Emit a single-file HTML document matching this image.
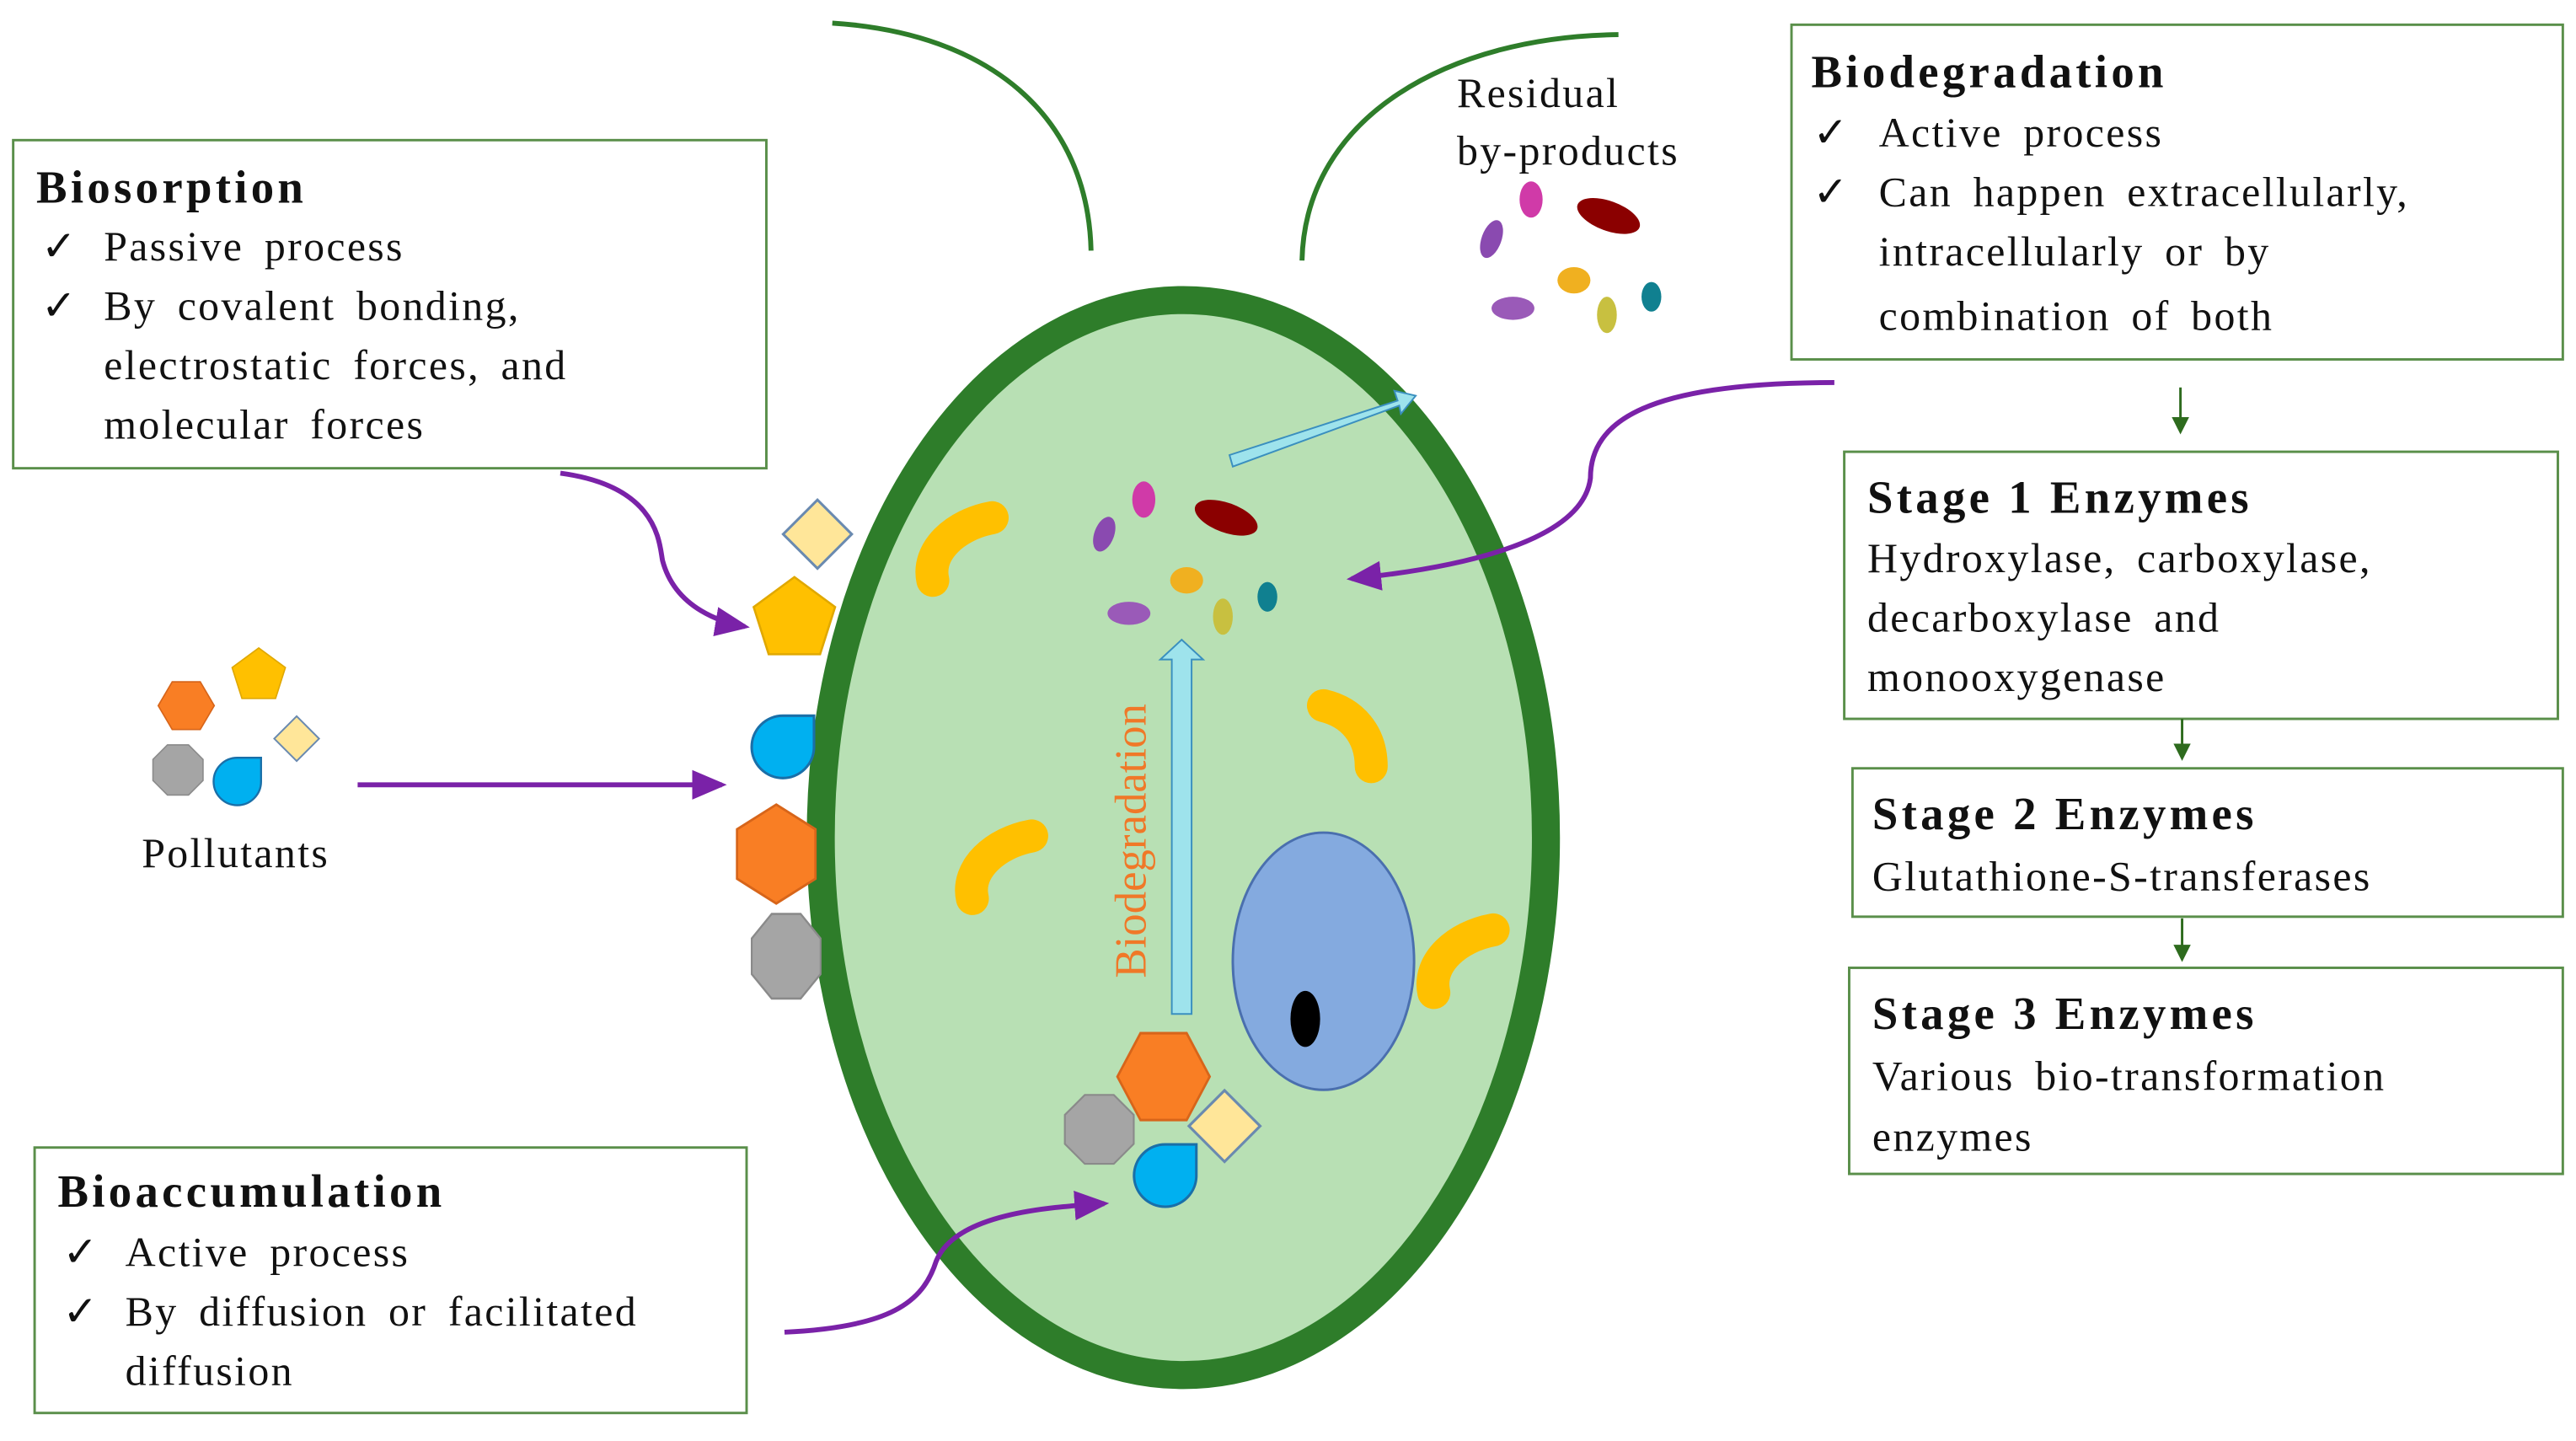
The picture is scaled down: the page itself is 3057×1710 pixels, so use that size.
<!DOCTYPE html>
<html><head><meta charset="utf-8"><style>
html,body{margin:0;padding:0;background:#fff;}
svg{display:block;}
text{font-family:"Liberation Serif","Times New Roman",serif;fill:#111;}
.t{font-size:28px;font-weight:bold;letter-spacing:2.2px;}
.b{font-size:25.5px;letter-spacing:1.2px;word-spacing:5px;}
.box{fill:#fff;stroke:#5a8f4a;stroke-width:1.5;}
.pur{fill:none;stroke:#7a22a8;stroke-width:3;}
</style></head><body>
<svg width="3057" height="1710" viewBox="0 0 1563 874" preserveAspectRatio="none" xmlns="http://www.w3.org/2000/svg" font-family="Liberation Serif, serif">
<defs>
<marker id="pa" markerWidth="8" markerHeight="8" refX="6" refY="4" orient="auto" markerUnits="strokeWidth"><path d="M0,1 L7,4 L0,7 Z" fill="#7a22a8"/></marker>
<marker id="ga" markerWidth="8" markerHeight="8" refX="6" refY="4" orient="auto" markerUnits="strokeWidth"><path d="M0,0.5 L7,4 L0,7.5 Z" fill="#2e6b1e"/></marker>
<path id="hex" d="M-20,0 L-10,-17 L10,-17 L20,0 L10,17 L-10,17 Z" fill="#f97e24" stroke="#d7651a" stroke-width="1"/>
<path id="oct" d="M-8,-19 L8,-19 L19,-8 L19,8 L8,19 L-8,19 L-19,8 L-19,-8 Z" fill="#a5a5a5" stroke="#8a8a8a" stroke-width="1"/>
<path id="pent" d="M0,-20 L19,-6 L12,16 L-12,16 L-19,-6 Z" fill="#ffc000" stroke="#e0a800" stroke-width="1"/>
<path id="dia" d="M0,-16 L16,0 L0,16 L-16,0 Z" fill="#ffe699" stroke="#6a8ab0" stroke-width="1.2"/>
<path id="drop" d="M18,-18 L18,0 A18,18 0 1 1 0,-18 Z" fill="#00b0f0" stroke="#1a6fa8" stroke-width="1.5"/>
<path id="bean" d="M-22,20 C-26,2 -8,-14 14,-18" fill="none" stroke="#ffc000" stroke-width="20" stroke-linecap="round"/>
</defs>

<path d="M505,14 C600,20 660,70 662,152" fill="none" stroke="#2e7d2a" stroke-width="3"/>
<path d="M982,21 C880,22 792,70 790,158" fill="none" stroke="#2e7d2a" stroke-width="3"/>

<ellipse cx="718" cy="508" rx="220" ry="326" fill="#b8e0b4" stroke="#2e7d2a" stroke-width="17"/>

<use href="#bean" transform="translate(588,332)"/>
<use href="#bean" transform="translate(612,525)"/>
<path d="M803,428 C820,432 832,445 832,465" fill="none" stroke="#ffc000" stroke-width="20" stroke-linecap="round"/>
<use href="#bean" transform="translate(892,582)"/>

<ellipse cx="803" cy="583" rx="55" ry="78" fill="#84aadf" stroke="#4a6fae" stroke-width="1.5"/>
<ellipse cx="792" cy="618" rx="9" ry="17" fill="#000"/>

<path d="M711,615 L711,400 L704,400 L717,388 L730,400 L723,400 L723,615 Z" fill="#9ee3ec" stroke="#3a8fbf" stroke-width="1"/>
<path d="M746,276 L848,243 L846,237 L859,240 L850,251 L849,246 L748,283 Z" fill="#9ee3ec" stroke="#3a8fbf" stroke-width="1"/>
<text transform="translate(695,510) rotate(-90)" text-anchor="middle" style="font-size:27px;fill:#f07828">Biodegradation</text>

<g>
<ellipse cx="670" cy="324" rx="6" ry="11" fill="#8a4ab0" transform="rotate(20 670 324)"/>
<ellipse cx="694" cy="303" rx="7" ry="11" fill="#d03aa8"/>
<ellipse cx="744" cy="314" rx="20" ry="9" fill="#8b0000" transform="rotate(20 744 314)"/>
<ellipse cx="685" cy="372" rx="13" ry="7" fill="#9a5ab8"/>
<ellipse cx="720" cy="352" rx="10" ry="8" fill="#f0b020"/>
<ellipse cx="742" cy="374" rx="6" ry="11" fill="#c8c040"/>
<ellipse cx="769" cy="362" rx="6" ry="9" fill="#108090"/>
</g>
<g>
<ellipse cx="905" cy="145" rx="6" ry="12" fill="#8a4ab0" transform="rotate(20 905 145)"/>
<ellipse cx="929" cy="121" rx="7" ry="11" fill="#d03aa8"/>
<ellipse cx="976" cy="131" rx="20" ry="9" fill="#8b0000" transform="rotate(20 976 131)"/>
<ellipse cx="918" cy="187" rx="13" ry="7" fill="#9a5ab8"/>
<ellipse cx="955" cy="170" rx="10" ry="8" fill="#f0b020"/>
<ellipse cx="975" cy="191" rx="6" ry="11" fill="#c8c040"/>
<ellipse cx="1002" cy="180" rx="6" ry="9" fill="#108090"/>
</g>
<text x="884" y="65" class="b">Residual</text>
<text x="884" y="100" class="b">by-products</text>

<use href="#dia" transform="translate(496,324) scale(1.3)"/>
<use href="#pent" transform="translate(482,376) scale(1.3)"/>
<use href="#drop" transform="translate(475,453) scale(1.05)"/>
<use href="#hex" transform="translate(471,518) scale(1.4,1.5) rotate(90)"/>
<use href="#oct" transform="translate(477,580) scale(1.1,1.35)"/>

<use href="#hex" transform="translate(113,428) scale(0.85)"/>
<use href="#pent" transform="translate(157,410) scale(0.85)"/>
<use href="#dia" transform="translate(180,448) scale(0.85)"/>
<use href="#oct" transform="translate(108,467) scale(0.8)"/>
<use href="#drop" transform="translate(144,474) scale(0.8)"/>
<text x="86" y="526" class="b">Pollutants</text>

<use href="#hex" transform="translate(706,653) scale(1.4,1.55)"/>
<use href="#oct" transform="translate(667,685) scale(1.1)"/>
<use href="#dia" transform="translate(743,683) scale(1.35)"/>
<use href="#drop" transform="translate(707,713) scale(1.05)"/>

<path class="pur" d="M340,287 C400,295 400,330 402,340 C410,370 440,378 452,380" marker-end="url(#pa)"/>
<path class="pur" d="M217,476 L438,476" marker-end="url(#pa)"/>
<path class="pur" d="M476,808 C540,805 560,790 568,765 C580,735 640,732 670,730" marker-end="url(#pa)"/>
<path class="pur" d="M1113,232 C1000,232 965,255 965,290 C960,330 880,345 820,351" marker-end="url(#pa)"/>

<rect class="box" x="8" y="85" width="457" height="199"/>
<text x="22" y="123" class="t">Biosorption</text>
<text x="25" y="158" class="b">✓</text><text x="63" y="158" class="b">Passive process</text>
<text x="25" y="194" class="b">✓</text><text x="63" y="194" class="b">By covalent bonding,</text>
<text x="63" y="230" class="b">electrostatic forces, and</text>
<text x="63" y="266" class="b">molecular forces</text>

<rect class="box" x="21" y="696" width="432" height="161"/>
<text x="35" y="732" class="t">Bioaccumulation</text>
<text x="38" y="768" class="b">✓</text><text x="76" y="768" class="b">Active process</text>
<text x="38" y="804" class="b">✓</text><text x="76" y="804" class="b">By diffusion or facilitated</text>
<text x="76" y="840" class="b">diffusion</text>

<rect class="box" x="1087" y="15" width="468" height="203"/>
<text x="1099" y="53" class="t">Biodegradation</text>
<text x="1100" y="89" class="b">✓</text><text x="1140" y="89" class="b">Active process</text>
<text x="1100" y="125" class="b">✓</text><text x="1140" y="125" class="b">Can happen extracellularly,</text>
<text x="1140" y="161" class="b">intracellularly or by</text>
<text x="1140" y="200" class="b">combination of both</text>

<line x1="1323" y1="235" x2="1323" y2="262" stroke="#2e6b1e" stroke-width="1.5" marker-end="url(#ga)"/>
<rect class="box" x="1119" y="274" width="433" height="162"/>
<text x="1133" y="311" class="t">Stage 1 Enzymes</text>
<text x="1133" y="347" class="b">Hydroxylase, carboxylase,</text>
<text x="1133" y="383" class="b">decarboxylase and</text>
<text x="1133" y="419" class="b">monooxygenase</text>

<line x1="1324" y1="436" x2="1324" y2="460" stroke="#2e6b1e" stroke-width="1.5" marker-end="url(#ga)"/>
<rect class="box" x="1124" y="466" width="431" height="90"/>
<text x="1136" y="503" class="t">Stage 2 Enzymes</text>
<text x="1136" y="540" class="b">Glutathione-S-transferases</text>

<line x1="1324" y1="557" x2="1324" y2="582" stroke="#2e6b1e" stroke-width="1.5" marker-end="url(#ga)"/>
<rect class="box" x="1122" y="587" width="433" height="125"/>
<text x="1136" y="624" class="t">Stage 3 Enzymes</text>
<text x="1136" y="661" class="b">Various bio-transformation</text>
<text x="1136" y="698" class="b">enzymes</text>
</svg>
</body></html>
